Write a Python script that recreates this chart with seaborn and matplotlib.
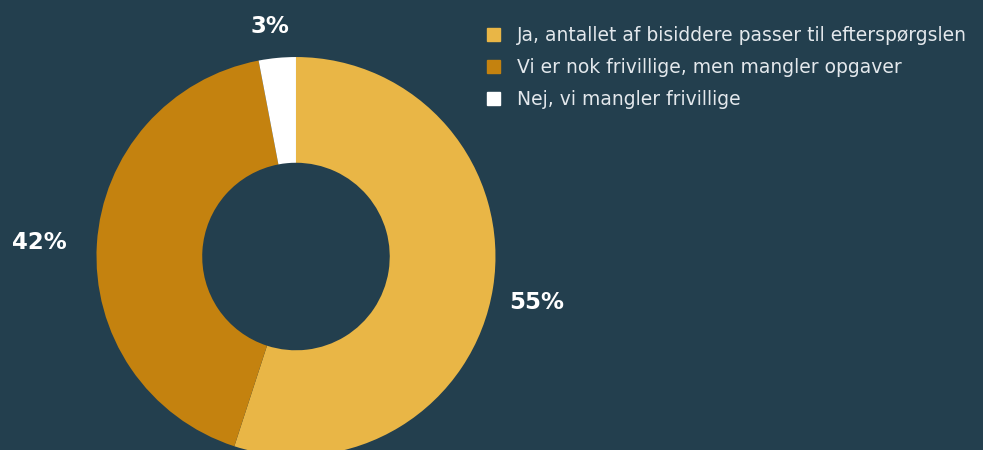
import matplotlib
matplotlib.use("Agg")
import matplotlib.pyplot as plt
import seaborn as sns

# survey answers
answers = ["Ja, antallet af bisiddere passer til efterspørgslen",
           "Vi er nok frivillige, men mangler opgaver",
           "Nej, vi mangler frivillige"]
shares = [55, 42, 3]
pct_labels = ["55%", "42%", "3%"]
colors = ["#E9B646", "#C4820F", "#FFFFFF"]

bg = "#233F4E"

sns.set_theme(style="white", rc={"figure.facecolor": bg, "axes.facecolor": bg,
                                 "savefig.facecolor": bg})
plt.rcParams['font.family'] = ['DejaVu Sans']

fig = plt.figure(figsize=(9.83, 4.5), dpi=100)
ax = fig.add_axes([0.0474, -0.1242, 0.5074, 1.1083])

wedges, texts = ax.pie(shares, colors=sns.color_palette(colors), startangle=90,
                       counterclock=False, radius=1,
                       labels=pct_labels, labeldistance=1.15,
                       wedgeprops={"width": 0.53, "linewidth": 0},
                       textprops={"color": "white", "fontsize": 16.5, "fontweight": "bold"})
ax.set_aspect("equal")
ax.axis("off")

# label placement (pie-radius units), tuned to sit like the original
label_pos = [(1.068, -0.228, "left"), (-1.148, 0.069, "right"), (-0.13, 1.152, "center")]
for t, (x, y, ha) in zip(texts, label_pos):
    t.set_position((x, y))
    t.set_ha(ha)
    t.set_va("center")

handles = [plt.Rectangle((0, 0), 1, 1, color=c) for c in colors]
leg = fig.legend(handles, answers, loc="upper left", bbox_to_anchor=(0.4955, 0.942),
                 frameon=False, fontsize=13.5, labelcolor="#E3E8EC",
                 handlelength=0.7, handleheight=0.7, handletextpad=0.9,
                 labelspacing=0.69, borderaxespad=0, borderpad=0)

fig.savefig("out.png", dpi=100, facecolor=bg)
